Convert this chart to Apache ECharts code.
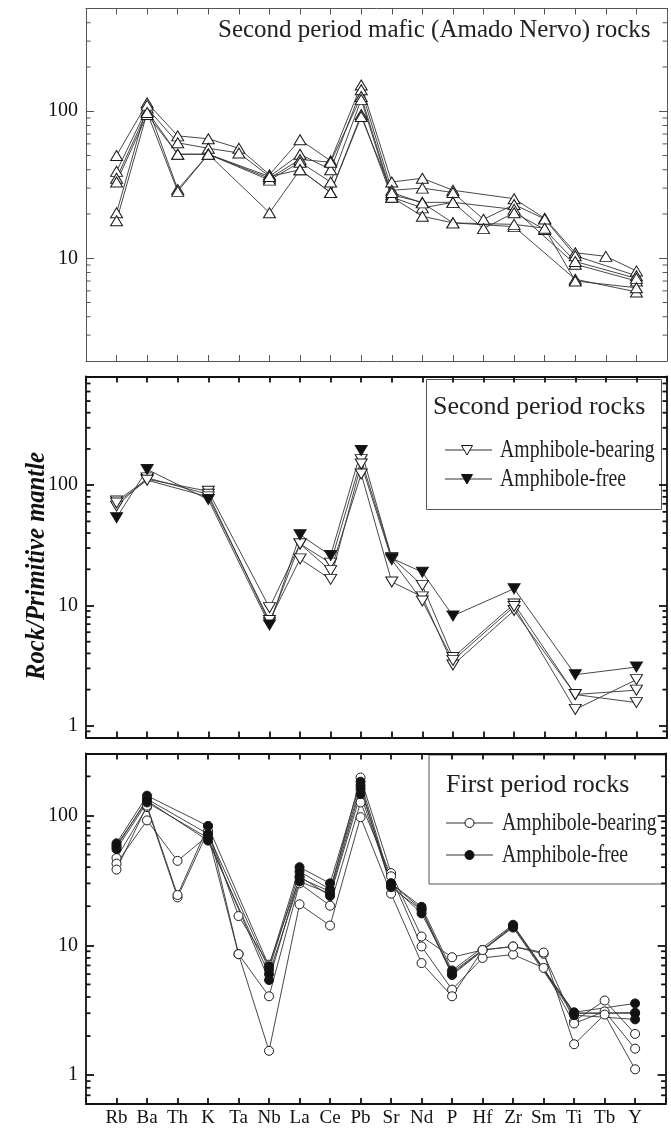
<!DOCTYPE html>
<html><head><meta charset="utf-8">
<script src="https://cdn.jsdelivr.net/npm/echarts@6/dist/echarts.min.js"></script>
<style>html,body{margin:0;padding:0;background:#fff}#c{width:671px;height:1129px}</style>
</head><body><div id="c"></div>
<script>
// ---------- categories ----------
const elements = ['Rb','Ba','Th','K','Ta','Nb','La','Ce','Pb','Sr','Nd','P','Hf','Zr','Sm','Ti','Tb','Y'];

// ---------- top panel: second period mafic (Amado Nervo) rocks ----------
const mafic1 = [50, 114, 68, 65, 56, 37, 64, 46, 151, 33, 35, 29, null, 25.4, 18.7, 10.9, 10.3, 8.2];
const mafic2 = [39, 105, 61, 56, 52, 36, 51, 40, 140, 29, 30, 28, 18.4, 23.2, 18.5, 10.4, null, 7.6];
const mafic3 = [35, 100, 51, 51, null, 35, 47, 45, 126, 27, 24, 24, null, 21.5, null, 9.1, null, 7.0];
const mafic4 = [33, 95, 51, 51, null, 34, 45, 33, 120, 26, 22, 24, 15.9, 20.4, 15.7, 9.5, null, 7.3];
const mafic5 = [20.4, 110, 29.4, 51, null, 20.4, 40, 28, 95, 26, 19.3, 17.4, null, 16.4, null, 7.2, null, 5.9];
const mafic6 = [18, 98, 28.5, 51, null, 36, 40, 28, 92, 28, 23.8, 17.4, null, 17, 16, 7.0, null, 6.3];

// ---------- middle panel: second period rocks ----------
const secBearing1 = [73.8, 112, null, 89, null, 9.6, 32.5, 22.5, 163, 25, 14.7, 3.7, null, 10.3, null, 1.82, null, 1.98];
const secBearing2 = [67, 115, null, 84, null, 7.2, 32.5, 19.5, 124, 15.7, 11.8, 3.2, null, 9.1, null, 1.82, null, 1.56];
const secBearing3 = [71, 110, null, 80, null, 7.5, 24.4, 16.5, 150, 24, 10.9, 3.5, null, 9.8, null, 1.37, null, 2.42];
const secFree1    = [53.7, 135, null, 76, null, 6.9, 38.7, 26, 194, 24.7, 18.9, 8.2, null, 13.8, null, 2.66, null, 3.08];

// ---------- bottom panel: first period rocks ----------
const firBearing1 = [47, 116, 23.4, 76, 16.8, 7.1, 33, 26, 196, 36, 11.7, 8.1, 9.2, 9.8, 8.6, 2.6, 3.76, 2.08];
const firBearing2 = [42.6, 91.6, 44.7, 70, 8.55, 4.05, 30, 20.2, 126, 34, 9.8, 4.56, 8.0, 8.5, 6.7, 2.5, 3.1, 1.6];
const firBearing3 = [38.3, 119, 24.4, 83, 8.55, 1.54, 20.7, 14.2, 97, 25, 7.3, 4.05, 9.2, 9.8, 8.8, 1.73, 2.93, 1.11];
const firFree1 = [61, 142, null, 83, null, 6.9, 40, 30, 182, 30, 19.8, 6.4, null, 14.4, null, 3.05, null, 3.57];
const firFree2 = [57, 134, null, 72, null, 6.5, 37, 27, 170, 28, 18.7, 5.9, null, 14.0, null, 3.0, null, 3.03];
const firFree3 = [55, 126, null, 67, null, 5.4, 34, 24, 146, 29, 17.6, 6.2, null, 13.7, null, 2.9, null, 2.69];
const firFree4 = [59, 130, null, 64, null, 6.0, 31, 25, 160, 30, 19, 6.0, null, 14.2, null, 3.0, null, 3.0];

// ---------- axis ranges & minor tick values ----------
const yRanges = [[2, 500], [0.8, 800], [0.6, 300]];
const minorTop = [3,4,5,6,7,8,9,20,30,40,50,60,70,80,90,200,300,400];
const minorMid = [0.9,2,3,4,5,6,7,8,9,20,30,40,50,60,70,80,90,200,300,400,500,600,700];
const minorBot = [0.7,0.8,0.9,2,3,4,5,6,7,8,9,20,30,40,50,60,70,80,90,200];

const titles = {
  top: 'Second period mafic (Amado Nervo) rocks',
  mid: 'Second period rocks',
  bot: 'First period rocks',
  bearing: 'Amphibole-bearing',
  free: 'Amphibole-free',
  yName: 'Rock/Primitive mantle'
};

// ---------- build ----------
const cats = [''].concat(elements).concat([' ']);
const pad = a => [null].concat(a).concat([null]);
const SERIF = "'Liberation Serif', 'Times New Roman', serif";

const grids = [
  {left: 86, right: 4, top: 8.5, height: 352.5},
  {left: 86, right: 4, top: 376.5, height: 361},
  {left: 86, right: 4, top: 753.5, height: 350.5}
];
const axisColor = ['#555', '#111', '#111'];
const axisW = [1, 1.8, 1.8];

const xAxis = [], yAxis = [];
grids.forEach((g, gi) => {
  const c = axisColor[gi], w = axisW[gi];
  ['bottom', 'top'].forEach(pos => {
    xAxis.push({
      type: 'category', gridIndex: gi, data: cats, boundaryGap: false, position: pos,
      axisLine: {show: true, onZero: false, lineStyle: {color: c, width: w}},
      axisTick: {show: true, inside: true, length: 6, interval: 0, lineStyle: {color: c, width: w}},
      axisLabel: {show: gi === 2 && pos === 'bottom', interval: 0, fontFamily: SERIF, fontSize: 19, color: '#111', margin: 5},
      splitLine: {show: false}
    });
  });
  ['left', 'right'].forEach(pos => {
    yAxis.push({
      type: 'log', logBase: 10, gridIndex: gi, position: pos,
      min: yRanges[gi][0], max: yRanges[gi][1],
      axisLine: {show: true, onZero: false, lineStyle: {color: c, width: w}},
      axisTick: {show: true, inside: true, length: 8, lineStyle: {color: c, width: w}},
      axisLabel: {show: pos === 'left', showMinLabel: false, showMaxLabel: false, fontFamily: SERIF, fontSize: 20, color: '#111', margin: 8},
      splitLine: {show: false}
    });
  });
});

const series = [];
function addLine(gi, data, symbol, size, rotate, fill) {
  series.push({
    type: 'line', xAxisIndex: gi * 2, yAxisIndex: gi * 2, data: pad(data),
    connectNulls: true, symbol: symbol, symbolSize: size, symbolRotate: rotate,
    showAllSymbol: true, animation: false,
    lineStyle: {color: '#333', width: 0.9},
    itemStyle: {color: fill, borderColor: '#1a1a1a', borderWidth: 1, opacity: 1}
  });
}
[mafic1, mafic2, mafic3, mafic4, mafic5, mafic6].forEach(d => addLine(0, d, 'triangle', [12, 10], 0, '#fff'));
[secBearing1, secBearing2, secBearing3].forEach(d => addLine(1, d, 'triangle', [12, 10], 180, '#fff'));
[secFree1].forEach(d => addLine(1, d, 'triangle', [12, 10], 180, '#111'));
[firBearing1, firBearing2, firBearing3].forEach(d => addLine(2, d, 'circle', 9, 0, '#fff'));
[firFree1, firFree2, firFree3, firFree4].forEach(d => addLine(2, d, 'circle', 9, 0, '#111'));

// minor ticks on left and right edges, positioned through the axis scale
[minorTop, minorMid, minorBot].forEach((vals, gi) => {
  const c = axisColor[gi], w = axisW[gi];
  series.push({
    type: 'custom', xAxisIndex: gi * 2, yAxisIndex: gi * 2, silent: true, animation: false,
    data: vals.map(v => [0, v]), clip: false,
    renderItem: (params, api) => {
      const v = api.value(1);
      const pL = api.coord([0, v]);
      const pR = api.coord([cats.length - 1, v]);
      return {type: 'group', children: [
        {type: 'line', shape: {x1: pL[0], y1: pL[1], x2: pL[0] + 4.5, y2: pL[1]}, style: {stroke: c, lineWidth: w}},
        {type: 'line', shape: {x1: pR[0] - 4.5, y1: pR[1], x2: pR[0], y2: pR[1]}, style: {stroke: c, lineWidth: w}}
      ]};
    }
  });
});

// ---------- graphic: titles, legends, y name ----------
function tri(x, y, down, fill) {
  const s = down ? [[-5.5, -4.5], [5.5, -4.5], [0, 5]] : [[-5.5, 4.5], [5.5, 4.5], [0, -5]];
  return {type: 'polygon', x: x, y: y, shape: {points: s}, style: {fill: fill, stroke: '#111', lineWidth: 1}};
}
function circ(x, y, fill) {
  return {type: 'circle', shape: {cx: x, cy: y, r: 4.5}, style: {fill: fill, stroke: '#111', lineWidth: 1}};
}
function seg(x1, x2, y) {
  return {type: 'line', shape: {x1: x1, y1: y, x2: x2, y2: y}, style: {stroke: '#333', lineWidth: 1}};
}
function txt(x, y, t, size, sx, extra) {
  return Object.assign({type: 'text', x: x, y: y, scaleX: sx,
    style: {text: t, font: size + "px " + SERIF, fill: '#222', verticalAlign: 'middle', align: 'left'}}, extra || {});
}

const graphic = [
  txt(218, 30, titles.top, 25, 1),
  // middle legend
  {type: 'rect', shape: {x: 426.5, y: 379.5, width: 235, height: 130}, style: {fill: '#fff', stroke: '#555', lineWidth: 1}},
  txt(433, 407, titles.mid, 26, 1),
  seg(445, 492, 450), tri(467, 450, true, '#fff'),
  txt(500, 450, titles.bearing, 25, 0.79),
  seg(445, 492, 479), tri(467, 479, true, '#111'),
  txt(500, 479, titles.free, 25, 0.79),
  // bottom legend
  {type: 'rect', shape: {x: 429, y: 755, width: 236.5, height: 129}, style: {fill: '#fff', stroke: '#555', lineWidth: 1}},
  txt(446, 785, titles.bot, 26, 1),
  seg(446, 493, 823), circ(469.5, 823, '#fff'),
  txt(502, 823, titles.bearing, 25, 0.79),
  seg(446, 493, 855), circ(469.5, 855, '#111'),
  txt(502, 855, titles.free, 25, 0.79),
  // y name
  {type: 'text', x: 37, y: 566, rotation: Math.PI / 2, scaleX: 0.88,
   style: {text: titles.yName, font: "bold italic 28px " + SERIF, fill: '#111', align: 'center', verticalAlign: 'middle'}}
];

const chart = echarts.init(document.getElementById('c'), null, {renderer: 'canvas'});
chart.setOption({
  animation: false,
  backgroundColor: '#fff',
  grid: grids,
  xAxis: xAxis,
  yAxis: yAxis,
  series: series,
  graphic: graphic
});
</script>
</body></html>
